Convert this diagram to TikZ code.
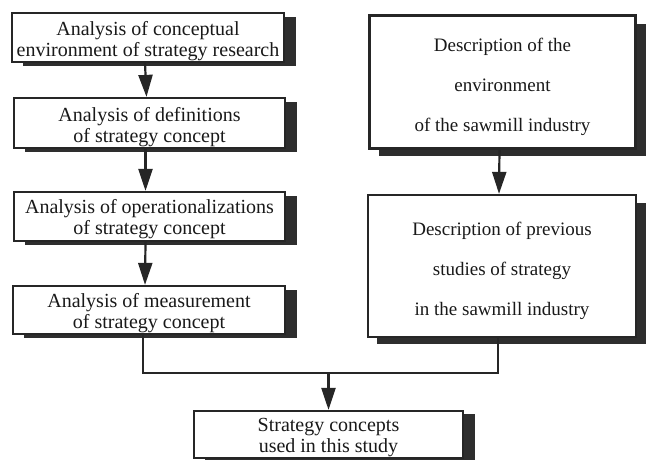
\documentclass[tikz,border=0pt]{standalone}
\usepackage{fontspec}
\setmainfont{Liberation Serif}
\usetikzlibrary{arrows.meta}

\tikzset{
  frame/.style={draw=black!85, line width=2.2pt, fill=white, inner sep=0pt},
  boxtext/.style={align=center, inner sep=0pt, text=black!90,
    font=\fontsize{20}{21}\selectfont},
  talltext/.style={align=center, inner sep=0pt, text=black!90,
    font=\fontsize{19}{40}\selectfont},
  flow/.style={draw=black!85, line width=2.2pt,
    -{Triangle[length=22pt,width=14pt]}},
  joinline/.style={draw=black!85, line width=2.2pt},
  boxshadow/.style={fill=black!82},
}

\begin{document}
\begin{tikzpicture}[x=1pt,y=-1pt]
\useasboundingbox (0,0) rectangle (646,460);

% drop shadows (behind the boxes)
\fill[boxshadow] (23,17) rectangle (296,66);
\fill[boxshadow] (25,102) rectangle (297,152);
\fill[boxshadow] (25,196) rectangle (297,245);
\fill[boxshadow] (24,290) rectangle (297,338);
\fill[boxshadow] (379,24) rectangle (646,156);
\fill[boxshadow] (377,203) rectangle (646,344);
\fill[boxshadow] (205,414) rectangle (475,462);

% left column: frames, with their text set a little below centre
\node[frame, minimum width=272pt, minimum height=49pt] (a1) at (148,37.5) {};
\node[boxtext] (a1t) at ([yshift=-4pt]a1.center)
  {Analysis of conceptual\\environment of strategy research};
\node[frame, minimum width=271pt, minimum height=50pt] (a2) at (149.5,123) {};
\node[boxtext] (a2t) at ([yshift=-4pt]a2.center)
  {Analysis of definitions\\of strategy concept};
\node[frame, minimum width=271pt, minimum height=49pt] (a3) at (149.5,216.5) {};
\node[boxtext] (a3t) at ([yshift=-3pt]a3.center)
  {Analysis of operationalizations\\of strategy concept};
\node[frame, minimum width=272pt, minimum height=48pt] (a4) at (149,310) {};
\node[boxtext] (a4t) at ([yshift=-3pt]a4.center)
  {Analysis of measurement\\of strategy concept};

% right column
\node[frame, minimum width=266pt, minimum height=133pt] (r1) at (502.5,82) {};
\node[talltext] (r1t) at ([yshift=-5pt]r1.center)
  {Description of the\\environment\\of the sawmill industry};
\node[frame, minimum width=268pt, minimum height=142pt] (r2) at (502,266) {};
\node[talltext] (r2t) at ([yshift=-5pt]r2.center)
  {Description of previous\\studies of strategy\\in the sawmill industry};

% result
\node[frame, minimum width=269pt, minimum height=47pt] (res) at (328.5,434.5) {};
\node[boxtext] (rest) at ([yshift=-3pt]res.center)
  {Strategy concepts\\used in this study};

% connectors
\draw[flow] ([xshift=-3pt]a1.south) -- ([xshift=-3pt]a2.north);
\draw[flow] ([xshift=-4pt]a2.south) -- ([xshift=-4pt]a3.north);
\draw[flow] ([xshift=-4pt]a3.south) -- ([xshift=-4pt]a4.north);
\draw[flow] ([xshift=-3pt]r1.south) -- ([xshift=-3pt]r2.north);

\coordinate (jl) at ([xshift=-6pt]a4.south |- 0,373);
\coordinate (jr) at ([xshift=-4pt]r2.south |- 0,373);
\draw[joinline] ([xshift=-6pt]a4.south) -- (jl) -- (jr) -- ([xshift=-4pt]r2.south);
\draw[flow] (res.north |- jl) -- (res.north);
\end{tikzpicture}
\end{document}
